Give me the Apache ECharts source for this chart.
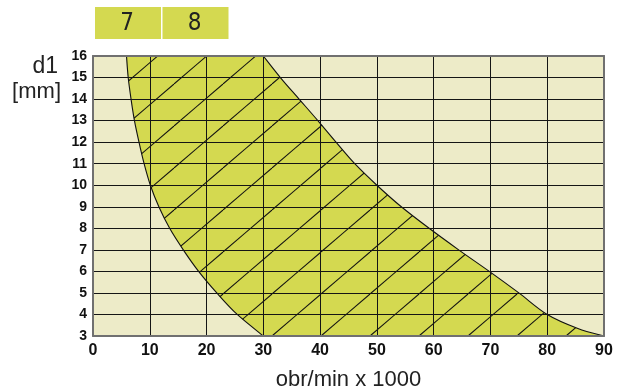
<!DOCTYPE html>
<html>
<head>
<meta charset="utf-8">
<script src="https://cdn.jsdelivr.net/npm/echarts@6/dist/echarts.min.js"></script>
<style>
html,body{margin:0;padding:0;background:#fff;}
#chart{width:622px;height:390px;}
</style>
</head>
<body>
<div id="chart"></div>
<script>
// ---- data ----
const leftCurveY  = [16, 15, 14, 13, 12, 11, 10, 9, 8, 7, 6, 5, 4, 3];
const leftCurveX  = [5.9, 6.2, 6.7, 7.3, 8.1, 9.0, 10.1, 11.6, 13.5, 15.9, 18.6, 21.8, 25.4, 30];
const rightCurveY = [16, 15, 14, 13, 12, 11, 10, 9, 8, 7, 6, 5, 4, 3.35, 3];
const rightCurveX = [30, 33.0, 36.3, 39.6, 42.8, 46.1, 50, 54.3, 59.2, 64.4, 69.8, 75, 80, 85.4, 90];
const boxLabels = ['7', '8'];
const xName = 'obr/min x 1000';
const yNameLines = ['d1', '[mm]'];

// ---- style ----
const FILL = '#D4D950';
const BG = '#EDEBC8';
const BORDER = '#707070';

function makeHatch() {
  const W = 49, H = 42, x0 = 27;
  const c = document.createElement('canvas');
  c.width = W; c.height = H;
  const g = c.getContext('2d');
  g.fillStyle = FILL; g.fillRect(0, 0, W, H);
  g.strokeStyle = '#111'; g.lineWidth = 1.1;
  for (const s of [-W, 0, W]) {
    g.beginPath(); g.moveTo(x0 + s, 0); g.lineTo(x0 + s - W, H); g.stroke();
  }
  return c;
}
const hatch = { image: makeHatch(), repeat: 'repeat' };

function segs(p) {
  let d = '';
  for (let i = 0; i < p.length - 1; i++) {
    const p0 = p[i - 1] || p[i], p1 = p[i], p2 = p[i + 1], p3 = p[i + 2] || p[i + 1];
    const c1 = [p1[0] + (p2[0] - p0[0]) / 6, p1[1] + (p2[1] - p0[1]) / 6];
    const c2 = [p2[0] - (p3[0] - p1[0]) / 6, p2[1] - (p3[1] - p1[1]) / 6];
    d += ' C' + c1[0] + ',' + c1[1] + ' ' + c2[0] + ',' + c2[1] + ' ' + p2[0] + ',' + p2[1];
  }
  return d;
}

const chart = echarts.init(document.getElementById('chart'));

const labelFont = { fontFamily: "'Liberation Sans', Arial, sans-serif", fontWeight: 'bold', color: '#111' };

const graphic = [];
boxLabels.forEach((t, i) => {
  const x = 95 + i * 67.5;
  graphic.push({ type: 'rect', shape: { x: x, y: 7, width: 66, height: 32 }, style: { fill: FILL }, z: 10 });
  graphic.push({ type: 'text', x: x + 32, y: 24, style: { text: t, fill: '#222', font: "24px 'Liberation Sans Narrow', 'DejaVu Sans Condensed', sans-serif", textAlign: 'center', textVerticalAlign: 'middle' }, z: 11 });
});
graphic.push({ type: 'text', x: 58, y: 67, style: { text: yNameLines[0], fill: '#222', font: "23px 'Liberation Sans', Arial, sans-serif", textAlign: 'right', textVerticalAlign: 'middle' } });
graphic.push({ type: 'text', x: 61, y: 92, style: { text: yNameLines[1], fill: '#222', font: "22px 'Liberation Sans', Arial, sans-serif", textAlign: 'right', textVerticalAlign: 'middle' } });

const borderAxis = { show: true, onZero: false, lineStyle: { color: BORDER, width: 2 } };

chart.setOption({
  animation: false,
  grid: { left: 93, right: 18, top: 56, bottom: 54, show: true, backgroundColor: BG, borderWidth: 0, outerBoundsMode: 'none', containLabel: false },
  graphic: graphic,
  xAxis: [
    {
      type: 'value', min: 0, max: 90, interval: 10, position: 'bottom', z: 3,
      axisLine: borderAxis, axisTick: { show: false },
      axisLabel: Object.assign({ fontSize: 16, margin: 7 }, labelFont),
      splitLine: { show: true, lineStyle: { color: '#151515', width: 1 } },
      name: xName, nameLocation: 'middle', nameGap: 33,
      nameTextStyle: { fontFamily: "'Liberation Sans', Arial, sans-serif", fontSize: 22, color: '#222' }
    },
    {
      type: 'value', min: 0, max: 90, interval: 10, position: 'top', z: 3,
      axisLine: borderAxis, axisTick: { show: false }, axisLabel: { show: false }, splitLine: { show: false }
    }
  ],
  yAxis: [
    {
      type: 'value', min: 3, max: 16, interval: 1, position: 'left', z: 3,
      axisLine: borderAxis, axisTick: { show: false },
      axisLabel: Object.assign({ fontSize: 14, margin: 6 }, labelFont),
      splitLine: { show: true, lineStyle: { color: '#151515', width: 1 } }
    },
    {
      type: 'value', min: 3, max: 16, interval: 1, position: 'right', z: 3,
      axisLine: borderAxis, axisTick: { show: false }, axisLabel: { show: false }, splitLine: { show: false }
    }
  ],
  series: [{
    type: 'custom',
    coordinateSystem: 'cartesian2d',
    xAxisIndex: 0, yAxisIndex: 0,
    z: 2,
    clip: false,
    data: [[0, 3]],
    renderItem: function (params, api) {
      const L = leftCurveX.map((x, i) => api.coord([x, leftCurveY[i]]));
      const R = rightCurveX.map((x, i) => api.coord([x, rightCurveY[i]]));
      const Rrev = R.slice().reverse();
      const area = 'M' + L[0][0] + ',' + L[0][1] + segs(L) + ' L' + Rrev[0][0] + ',' + Rrev[0][1] + segs(Rrev) + ' Z';
      const lp = 'M' + L[0][0] + ',' + L[0][1] + segs(L);
      const rp = 'M' + R[0][0] + ',' + R[0][1] + segs(R);
      return {
        type: 'group',
        children: [
          { type: 'path', shape: { pathData: area }, style: { fill: hatch, stroke: null } },
          { type: 'path', shape: { pathData: lp }, style: { fill: null, stroke: '#111', lineWidth: 1.1 } },
          { type: 'path', shape: { pathData: rp }, style: { fill: null, stroke: '#111', lineWidth: 1.1 } }
        ]
      };
    }
  }]
});
</script>
</body>
</html>
